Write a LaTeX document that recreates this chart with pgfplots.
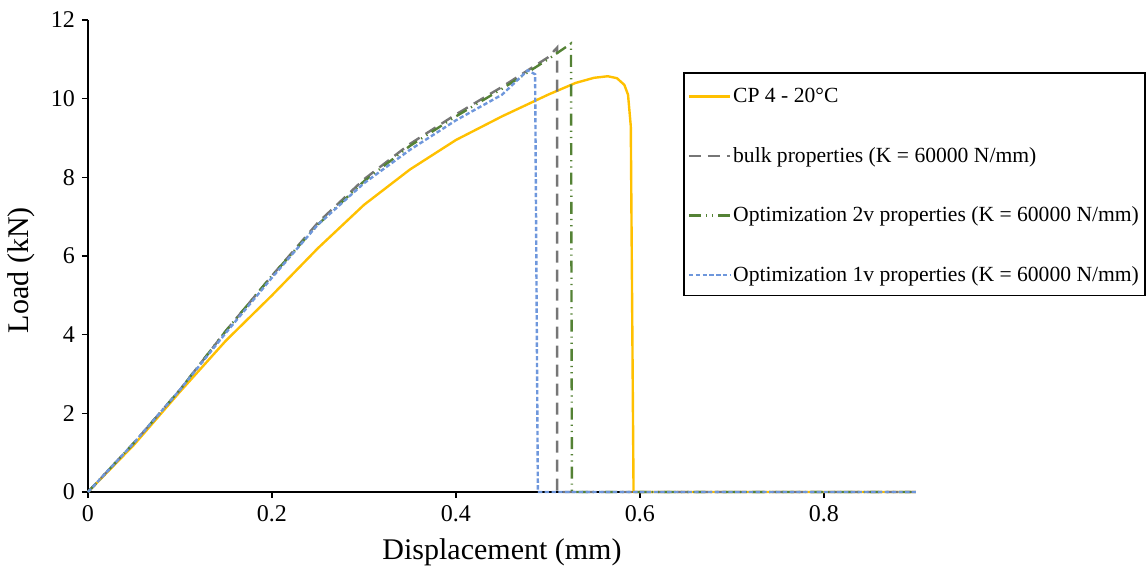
\documentclass[border=0pt]{standalone}
\usepackage{fontspec}
\setmainfont{Liberation Serif}
\usepackage{pgfplots}
\pgfplotsset{compat=1.18}
\definecolor{cpyellow}{HTML}{FFC000}
\definecolor{bulkgray}{HTML}{767676}
\definecolor{optgreen}{HTML}{548235}
\definecolor{optblue}{HTML}{6E97DC}
\begin{document}
\begin{tikzpicture}
\begin{axis}[
  scale only axis, width=414pt, height=236pt,
  xmin=0, xmax=0.9, ymin=0, ymax=12,
  axis x line*=bottom, axis y line*=left,
  axis line style={black, line width=0.6pt, -},
  xtick={0,0.2,0.4,0.6,0.8}, ytick={0,2,4,6,8,10,12},
  xticklabels={0,0.2,0.4,0.6,0.8},
  tick align=outside, major tick length=3pt,
  tick style={black, line width=0.6pt},
  /pgf/number format/assume math mode=true,
  tick label style={font=\fontsize{12}{14}\selectfont},
  xlabel={Displacement (mm)}, ylabel={Load (kN)},
  label style={font=\fontsize{15}{18}\selectfont},
  xlabel style={at={(axis description cs:0.5,0)}, anchor=center, yshift=-30pt},
  ylabel style={at={(axis description cs:-0.08,0.47)}, anchor=center},
  legend style={at={(rel axis cs:0.7186,0.89)}, anchor=north west,
    draw=black, line width=0.8pt, fill=white,
    font=\fontsize{10.8}{13}\selectfont,
    inner xsep=2pt, inner ysep=4pt,
    row sep=15.8pt,
    nodes={inner sep=1pt, text height=10pt, text depth=2pt},
    legend image code/.code={\draw[#1, line width=1.2pt] (0cm,-0.03cm) -- (0.72cm,-0.03cm);}},
  legend cell align=left,
  clip=false,
]
\coordinate (O) at (rel axis cs:0,0);
\addplot[cpyellow, line width=1.2pt] coordinates {
(0,0) (0.05,1.2) (0.1,2.55) (0.15,3.85) (0.2,5.0) (0.25,6.2) (0.3,7.3) (0.35,8.2)
(0.4,8.95) (0.45,9.55) (0.5,10.1) (0.53,10.4) (0.55,10.53) (0.565,10.57) (0.575,10.52)
(0.583,10.35) (0.587,10.1) (0.59,9.3) (0.593,0) (0.9,0)};
\addlegendentry{CP 4 - 20°C}
\addplot[bulkgray, line width=1.2pt, dash pattern=on 6pt off 3.5pt] coordinates {
(0,0) (0.05,1.25) (0.1,2.6) (0.15,4.1) (0.2,5.5) (0.25,6.85) (0.3,7.95) (0.35,8.85)
(0.4,9.6) (0.45,10.3) (0.5,11.05) (0.51,11.3) (0.51,0) (0.9,0)};
\addlegendentry{bulk properties (K = 60000 N/mm)}
\addplot[optgreen, line width=1.2pt, dash pattern=on 6pt off 2.5pt on 0.6pt off 2.5pt on 0.6pt off 2.5pt] coordinates {
(0,0) (0.05,1.25) (0.1,2.6) (0.15,4.1) (0.2,5.5) (0.25,6.8) (0.3,7.9) (0.35,8.8)
(0.4,9.55) (0.45,10.25) (0.5,11.0) (0.525,11.4) (0.526,0) (0.9,0)};
\addlegendentry{Optimization 2v properties (K = 60000 N/mm)}
\addplot[optblue, line width=1.2pt, dash pattern=on 2.2pt off 1.2pt] coordinates {
(0,0) (0.05,1.25) (0.1,2.6) (0.15,4.05) (0.2,5.45) (0.25,6.8) (0.3,7.85) (0.35,8.7)
(0.4,9.45) (0.45,10.1) (0.478,10.72) (0.486,10.62) (0.489,0) (0.9,0)};
\addlegendentry{Optimization 1v properties (K = 60000 N/mm)}
\end{axis}
\pgfresetboundingbox
\path ([shift={(-44pt,-40.5pt)}]O) rectangle ++(573.5pt,286.5pt);
\end{tikzpicture}
\end{document}
